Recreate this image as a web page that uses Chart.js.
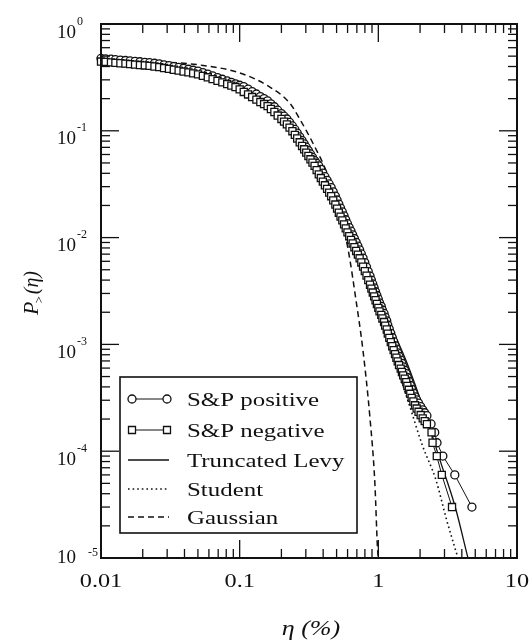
<!DOCTYPE html>
<html>
<head>
<meta charset="utf-8">
<script src="https://cdn.jsdelivr.net/npm/chart.js@4.4.1/dist/chart.umd.min.js"></script>
<style>
html, body { margin: 0; padding: 0; background: #fff; }
canvas { display: block; }
</style>
</head>
<body>
<canvas id="grafica" width="530" height="643"></canvas>
<script>
// eta (%) del cuerpo de las dos curvas S&P
const eta = [0.0100, 0.0108, 0.0118, 0.0127, 0.0138, 0.0150, 0.0162, 0.0176, 0.0191, 0.0207, 0.0224, 0.0243, 0.0263, 0.0285, 0.0309, 0.0335, 0.0363, 0.0394, 0.0427,
  0.0462, 0.0501, 0.0543, 0.0589, 0.0638, 0.0692, 0.0750, 0.0813, 0.0871, 0.0933, 0.100, 0.107, 0.115, 0.123, 0.132, 0.141, 0.150, 0.159, 0.168, 0.178,
  0.188, 0.200, 0.209, 0.219, 0.229, 0.240, 0.250, 0.260, 0.271, 0.282, 0.292, 0.302, 0.313, 0.324, 0.335, 0.347, 0.359, 0.372, 0.385, 0.398,
  0.412, 0.427, 0.442, 0.457, 0.473, 0.490, 0.504, 0.519, 0.534, 0.550, 0.566, 0.582, 0.599, 0.617, 0.635, 0.653, 0.672, 0.692, 0.712, 0.733,
  0.754, 0.776, 0.799, 0.822, 0.846, 0.871, 0.891, 0.912, 0.933, 0.955, 0.977, 1.00, 1.02, 1.05, 1.07, 1.10, 1.12, 1.15, 1.17, 1.20,
  1.23, 1.26, 1.29, 1.32, 1.35, 1.38, 1.41, 1.45, 1.48, 1.51, 1.55, 1.59, 1.62, 1.66, 1.70, 1.74, 1.79, 1.84, 1.89, 1.95,
  2.02, 2.09, 2.16, 2.24];
const posP = [0.476, 0.472, 0.468, 0.463, 0.459, 0.455, 0.451, 0.447, 0.443, 0.438, 0.434, 0.429, 0.424, 0.415, 0.407, 0.399, 0.392, 0.384, 0.377,
  0.369, 0.362, 0.351, 0.340, 0.327, 0.315, 0.304, 0.293, 0.284, 0.275, 0.267, 0.259, 0.246, 0.233, 0.221, 0.209, 0.200, 0.191, 0.179, 0.168,
  0.156, 0.145, 0.137, 0.129, 0.120, 0.111, 0.103, 0.0951, 0.0877, 0.0809, 0.0754, 0.0702, 0.0653, 0.0607, 0.0565, 0.0526, 0.0497, 0.0470, 0.0435, 0.0402,
  0.0372, 0.0344, 0.0318, 0.0294, 0.0268, 0.0245, 0.0225, 0.0206, 0.0189, 0.0174, 0.0160, 0.0147, 0.0135, 0.0124, 0.0115, 0.0106, 0.00978, 0.00902, 0.00833, 0.00769,
  0.00703, 0.00643, 0.00584, 0.00530, 0.00481, 0.00436, 0.00400, 0.00368, 0.00338, 0.00311, 0.00287, 0.00265, 0.00245, 0.00227, 0.00210, 0.00195, 0.00180, 0.00166, 0.00152, 0.00139,
  0.00127, 0.00116, 0.00106, 0.000975, 0.000902, 0.000834, 0.000771, 0.000713, 0.000663, 0.000617, 0.000573, 0.000532, 0.000490, 0.000452, 0.000414, 0.000380, 0.000350, 0.000323, 0.000302, 0.000282,
  0.000262, 0.000244, 0.000229, 0.000215];
const negP = [0.445, 0.441, 0.437, 0.433, 0.429, 0.425, 0.421, 0.417, 0.413, 0.409, 0.405, 0.400, 0.395, 0.387, 0.380, 0.373, 0.366, 0.359, 0.352,
  0.345, 0.338, 0.327, 0.317, 0.305, 0.294, 0.284, 0.274, 0.265, 0.257, 0.244, 0.231, 0.219, 0.207, 0.196, 0.186, 0.178, 0.170, 0.160, 0.150,
  0.139, 0.129, 0.122, 0.115, 0.107, 0.0991, 0.0916, 0.0847, 0.0781, 0.0721, 0.0671, 0.0625, 0.0581, 0.0541, 0.0504, 0.0469, 0.0428, 0.0391, 0.0361, 0.0334,
  0.0309, 0.0286, 0.0264, 0.0244, 0.0223, 0.0204, 0.0187, 0.0171, 0.0157, 0.0145, 0.0133, 0.0122, 0.0112, 0.0103, 0.00953, 0.00881, 0.00813, 0.00750, 0.00693, 0.00640,
  0.00585, 0.00535, 0.00486, 0.00441, 0.00400, 0.00362, 0.00333, 0.00306, 0.00282, 0.00259, 0.00239, 0.00220, 0.00204, 0.00189, 0.00175, 0.00162, 0.00150, 0.00138, 0.00126, 0.00115,
  0.00105, 0.000962, 0.000883, 0.000811, 0.000750, 0.000693, 0.000641, 0.000593, 0.000552, 0.000513, 0.000477, 0.000443, 0.000408, 0.000376, 0.000345, 0.000316, 0.000292, 0.000269, 0.000251, 0.000234,
  0.000218, 0.000203, 0.000191, 0.000179];
// colas (ultimos puntos, separados)
const posTailEta = [2.40, 2.55, 2.65, 2.92, 3.56, 4.73];
const posTailP = [1.8e-4, 1.5e-4, 1.2e-4, 9e-5, 6e-5, 3e-5];
const negTailEta = [2.42, 2.46, 2.64, 2.87, 3.40];
const negTailP = [1.5e-4, 1.2e-4, 9e-5, 6e-5, 3e-5];
// curvas teoricas
const levyEta = [0.0100, 0.0254, 0.0518, 0.1005, 0.165, 0.231, 0.272, 0.361, 0.471, 0.594, 0.750, 0.880, 1.04, 1.17, 1.61, 2.17, 2.78, 3.56, 4.43];
const levyP = [0.46, 0.413, 0.348, 0.257, 0.174, 0.113, 0.082, 0.0458, 0.0251, 0.0126, 0.00657, 0.00401, 0.00261, 0.00175, 6.7e-4, 2.28e-4, 8.3e-5, 3.1e-5, 1.0e-5];
const studentEta = [0.0100, 0.0254, 0.0518, 0.1005, 0.165, 0.231, 0.272, 0.361, 0.471, 0.594, 0.750, 0.869, 0.977, 1.135, 1.295, 1.45, 1.69, 2.08, 2.60, 3.10, 3.75];
const studentP = [0.46, 0.413, 0.348, 0.257, 0.174, 0.113, 0.082, 0.0458, 0.0251, 0.0126, 0.0064, 0.0038, 0.0024, 0.00135, 0.00077, 0.00048, 0.00026, 0.000113, 0.000054, 0.000023, 0.00001];
const gaussEta = [0.0100, 0.0254, 0.0518, 0.1005, 0.165, 0.231, 0.272, 0.337, 0.426, 0.511, 0.574, 0.624, 0.678, 0.774, 0.869, 0.944, 0.985, 1.0];
const gaussP = [0.47, 0.445, 0.413, 0.348, 0.257, 0.180, 0.128, 0.0769, 0.0403, 0.0194, 0.0110, 0.00617, 0.00303, 0.000887, 0.000209, 0.0000504, 0.0000127, 0.00001];
// etiquetas de los ejes
const xTicks = [0.01, 0.1, 1, 10];
const xTickLabels = ["0.01", "0.1", "1", "10"];
const yTicks = [1, 0.1, 0.01, 0.001, 0.0001, 0.00001];
const yTickExp = ["0", "-1", "-2", "-3", "-4", "-5"];

const SERIF = '"Liberation Serif", "Times New Roman", serif';
const pts = (xs, ys) => xs.map((x, i) => ({ x: x, y: ys[i] }));

function texto(ctx, str, x, y, size, align, sx, italic) {
  ctx.save();
  ctx.font = (italic ? "italic " : "") + size + "px " + SERIF;
  ctx.translate(x, y);
  ctx.scale(sx, 1);
  ctx.textAlign = align;
  ctx.textBaseline = "alphabetic";
  ctx.fillText(str, 0, 0);
  ctx.restore();
}
function linea(ctx, x1, y1, x2, y2) {
  ctx.beginPath(); ctx.moveTo(x1, y1); ctx.lineTo(x2, y2); ctx.stroke();
}
function marca(ctx, estilo, x, y) {
  ctx.save();
  ctx.fillStyle = "#fff"; ctx.strokeStyle = "#111"; ctx.lineWidth = 1.3;
  ctx.beginPath();
  if (estilo === "circle") ctx.arc(x, y, 4, 0, Math.PI * 2);
  else ctx.rect(x - 3.5, y - 3.5, 7, 7);
  ctx.fill(); ctx.stroke();
  ctx.restore();
}

const ejes = {
  id: "ejes",
  afterDraw(chart) {
    const { ctx, chartArea: a, scales: { x, y } } = chart;
    ctx.save();
    ctx.strokeStyle = "#111";
    ctx.fillStyle = "#111";
    // marcas hacia dentro en los cuatro lados
    ctx.lineWidth = 1.3;
    for (let e = -2; e < 1; e++) {
      for (let k = 1; k <= 9; k++) {
        const px = x.getPixelForValue(k * Math.pow(10, e));
        const len = k === 1 ? 18 : 9;
        linea(ctx, px, a.bottom, px, a.bottom - len);
        linea(ctx, px, a.top, px, a.top + len);
      }
    }
    for (let e = -5; e < 0; e++) {
      for (let k = 1; k <= 9; k++) {
        const py = y.getPixelForValue(k * Math.pow(10, e));
        const len = k === 1 ? 18 : 9;
        linea(ctx, a.left, py, a.left + len, py);
        linea(ctx, a.right, py, a.right - len, py);
      }
    }
    ctx.lineWidth = 2;
    ctx.strokeRect(a.left, a.top, a.right - a.left, a.bottom - a.top);

    // etiquetas eje x
    xTicks.forEach((v, i) => {
      texto(ctx, xTickLabels[i], x.getPixelForValue(v), a.bottom + 29, 18, "center", 1.35);
    });
    // etiquetas eje y: 10 con exponente
    yTicks.forEach((v, i) => {
      const py = y.getPixelForValue(v);
      if (i === yTicks.length - 1) {
        texto(ctx, "10", 76, py + 5, 19, "right", 1);
        texto(ctx, yTickExp[i], 88, py - 2, 12, "left", 1);
      } else {
        texto(ctx, "10", 76, py + 13.5, 19, "right", 1);
        texto(ctx, yTickExp[i], 77, py + 0.5, 12, "left", 1);
      }
    });

    // titulo eje x
    ctx.save();
    ctx.translate(311, 635);
    ctx.scale(1.3, 1);
    ctx.font = "italic 20px " + SERIF;
    ctx.textAlign = "left";
    const t1 = "\u03b7 (%)";
    ctx.fillText(t1, -ctx.measureText(t1).width / 2, 0);
    ctx.restore();

    // titulo eje y (girado)
    ctx.save();
    ctx.translate(31, 293);
    ctx.rotate(-Math.PI / 2);
    ctx.textBaseline = "alphabetic";
    ctx.textAlign = "left";
    ctx.font = "italic 22px " + SERIF;
    const wP = ctx.measureText("P").width;
    ctx.font = "13px " + SERIF;
    const wS = ctx.measureText(">").width;
    ctx.font = "italic 20px " + SERIF;
    const wE = ctx.measureText("(\u03b7)").width;
    let cx = -(wP + wS + wE) / 2;
    ctx.font = "italic 22px " + SERIF;
    ctx.fillText("P", cx, 7); cx += wP;
    ctx.font = "13px " + SERIF;
    ctx.fillText(">", cx - 2, 12); cx += wS;
    ctx.font = "italic 20px " + SERIF;
    ctx.fillText("(\u03b7)", cx, 7);
    ctx.restore();

    // leyenda
    ctx.lineWidth = 1.6;
    ctx.strokeRect(120, 377, 237, 156);
    const filas = [399, 430, 460, 489, 517];
    chart.data.datasets.forEach((ds, i) => {
      const fy = filas[i];
      ctx.save();
      ctx.strokeStyle = "#111";
      ctx.lineWidth = ds.borderWidth;
      ctx.setLineDash(ds.borderDash || []);
      linea(ctx, 128, fy, 169, fy);
      ctx.restore();
      if (ds.pointRadius > 0) {
        marca(ctx, ds.pointStyle, 132, fy);
        marca(ctx, ds.pointStyle, 167, fy);
      }
      texto(ctx, ds.label, 187, fy + 6.5, 19, "left", 1.31);
    });
    ctx.restore();
  }
};

new Chart(document.getElementById("grafica"), {
  type: "scatter",
  data: {
    datasets: [
      {
        label: "S&P positive",
        data: pts(eta, posP).concat(pts(posTailEta, posTailP)),
        showLine: true, borderColor: "#111", borderWidth: 1, tension: 0,
        pointStyle: "circle", pointRadius: 4, pointBorderWidth: 1.3,
        pointBackgroundColor: "#fff", pointBorderColor: "#111",
        order: 1, clip: false
      },
      {
        label: "S&P negative",
        data: pts(eta, negP).concat(pts(negTailEta, negTailP)),
        showLine: true, borderColor: "#111", borderWidth: 1, tension: 0,
        pointStyle: "rect", pointRadius: 5, pointBorderWidth: 1.3,
        pointBackgroundColor: "#fff", pointBorderColor: "#111",
        order: 0, clip: false
      },
      {
        label: "Truncated Levy",
        data: pts(levyEta, levyP),
        showLine: true, borderColor: "#111", borderWidth: 1.3,
        cubicInterpolationMode: "monotone", pointRadius: 0, order: 2
      },
      {
        label: "Student",
        data: pts(studentEta, studentP),
        showLine: true, borderColor: "#111", borderWidth: 1.6, borderDash: [1.6, 3],
        cubicInterpolationMode: "monotone", pointRadius: 0, order: 3
      },
      {
        label: "Gaussian",
        data: pts(gaussEta, gaussP),
        showLine: true, borderColor: "#111", borderWidth: 1.5, borderDash: [6, 4],
        cubicInterpolationMode: "monotone", pointRadius: 0, order: 4
      }
    ]
  },
  options: {
    responsive: false,
    animation: false,
    devicePixelRatio: 1,
    layout: { padding: { left: 101, top: 24, right: 13, bottom: 85 } },
    scales: {
      x: { type: "logarithmic", min: 0.01, max: 10, display: false },
      y: { type: "logarithmic", min: 0.00001, max: 1, display: false }
    },
    plugins: {
      legend: { display: false },
      tooltip: { enabled: false }
    }
  },
  plugins: [ejes]
});
</script>
</body>
</html>
